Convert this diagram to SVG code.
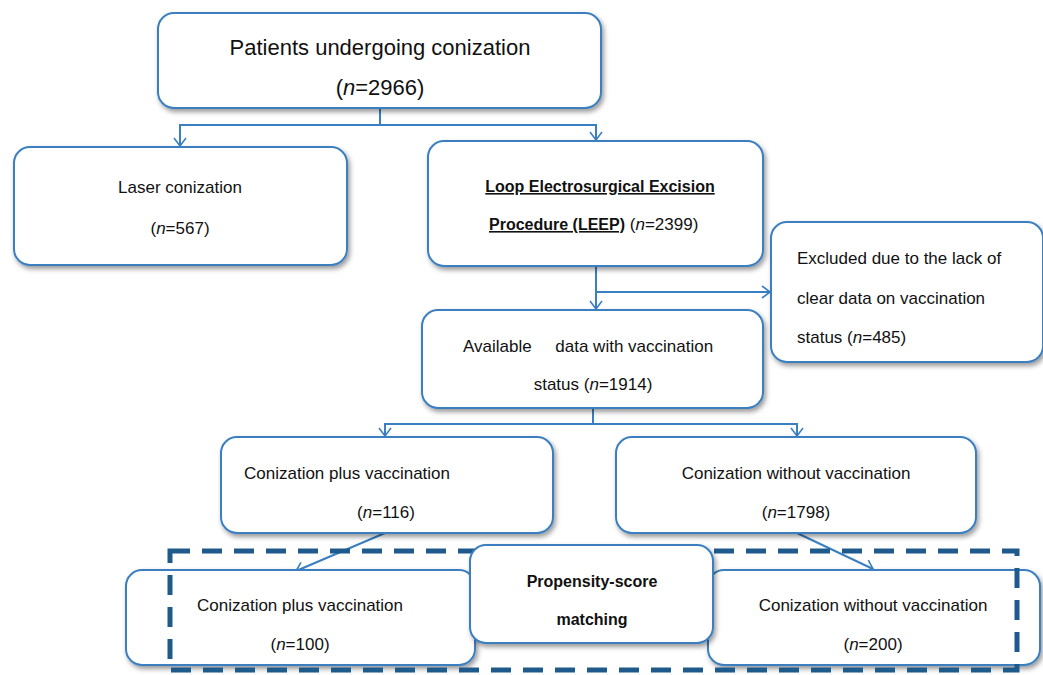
<svg xmlns="http://www.w3.org/2000/svg" width="1043" height="675" viewBox="0 0 1043 675">
<style>
.box{fill:#fff;stroke:#3a7fc1;stroke-width:2;filter:url(#sh)}
.t{font-family:"Liberation Sans",Arial,sans-serif;font-size:17px;fill:#111}
.c{text-anchor:middle}
.b{font-weight:bold;font-size:16px}
.u{text-decoration:underline}
.con{fill:none;stroke:#3a7fc1;stroke-width:2}
.dash{fill:none;stroke:#1e5a8c;stroke-width:5;stroke-dasharray:20 12}
</style>
<defs>
<filter id="sh" x="-10%" y="-10%" width="120%" height="130%">
<feDropShadow dx="2" dy="3" stdDeviation="2.5" flood-color="#000" flood-opacity="0.4"/>
</filter>
<marker id="ar" viewBox="-10 -8 12 16" refX="0" refY="0" markerWidth="12" markerHeight="16" markerUnits="userSpaceOnUse" orient="auto">
<path d="M-8,-6 L0,0 L-8,6" fill="none" stroke="#3a7fc1" stroke-width="1.6"/>
</marker>
</defs>

<g id="connectors">
<path class="con" d="M380,108 V125 H180 V146" marker-end="url(#ar)"/>
<path class="con" d="M380,125 H596 V140" marker-end="url(#ar)"/>
<path class="con" d="M596,266 V309" marker-end="url(#ar)"/>
<path class="con" d="M596,292 H770" marker-end="url(#ar)"/>
<path class="con" d="M593,408 V424 H385 V436" marker-end="url(#ar)"/>
<path class="con" d="M593,424 H797 V436" marker-end="url(#ar)"/>
<path class="con" d="M385,533 L296,571" marker-end="url(#ar)"/>
<path class="con" d="M797,533 L873,569" marker-end="url(#ar)"/>
</g>

<g id="n_patients">
<rect class="box" x="158" y="13" width="443" height="95" rx="16"/>
<text class="t c" x="380" y="55" style="font-size:22px">Patients undergoing conization</text>
<text class="t c" x="380" y="95" style="font-size:22px">(<tspan font-style="italic">n</tspan>=2966)</text>
</g>

<g id="n_laser">
<rect class="box" x="14" y="147" width="333" height="118" rx="16"/>
<text class="t c" x="180" y="193">Laser conization</text>
<text class="t c" x="180" y="234">(<tspan font-style="italic">n</tspan>=567)</text>
</g>

<g id="n_leep">
<rect class="box" x="428" y="141" width="335" height="125" rx="16"/>
<text class="t c b u" x="600" y="192">Loop Electrosurgical Excision </text>
<text class="t" x="489" y="230"><tspan class="b u">Procedure (LEEP)</tspan> (<tspan font-style="italic">n</tspan>=2399)</text>
</g>

<g id="n_excluded">
<rect class="box" x="771" y="222" width="272" height="140" rx="16"/>
<text class="t" x="797" y="264">Excluded due to the lack of</text>
<text class="t" x="797" y="304">clear data on vaccination</text>
<text class="t" x="797" y="343">status (<tspan font-style="italic">n</tspan>=485)</text>
</g>

<g id="n_available">
<rect class="box" x="422" y="310" width="341" height="98" rx="16"/>
<text class="t" x="463" y="352" xml:space="preserve">Available     data with vaccination</text>
<text class="t c" x="593" y="390">status (<tspan font-style="italic">n</tspan>=1914)</text>
</g>

<g id="n_plus">
<rect class="box" x="221" y="437" width="332" height="96" rx="16"/>
<text class="t" x="244" y="479">Conization plus vaccination</text>
<text class="t c" x="386" y="518">(<tspan font-style="italic">n</tspan>=116)</text>
</g>

<g id="n_without">
<rect class="box" x="616" y="437" width="360" height="96" rx="16"/>
<text class="t c" x="796" y="479">Conization without vaccination</text>
<text class="t c" x="796" y="518">(<tspan font-style="italic">n</tspan>=1798)</text>
</g>

<g id="n_plus100">
<rect class="box" x="126" y="570" width="349" height="95" rx="16"/>
<text class="t c" x="300" y="611">Conization plus vaccination</text>
<text class="t c" x="300" y="650">(<tspan font-style="italic">n</tspan>=100)</text>
</g>

<g id="n_without200">
<rect class="box" x="708" y="570" width="332" height="95" rx="16"/>
<text class="t c" x="873" y="611">Conization without vaccination</text>
<text class="t c" x="873" y="650">(<tspan font-style="italic">n</tspan>=200)</text>
</g>

<g id="psm_frame">
<rect class="dash" x="170" y="551" width="847" height="119"/>
</g>

<g id="n_psm">
<rect class="box" x="470" y="545" width="243" height="98" rx="16"/>
<text class="t c b" x="592" y="587">Propensity-score</text>
<text class="t c b" x="592" y="625">matching</text>
</g>
</svg>
